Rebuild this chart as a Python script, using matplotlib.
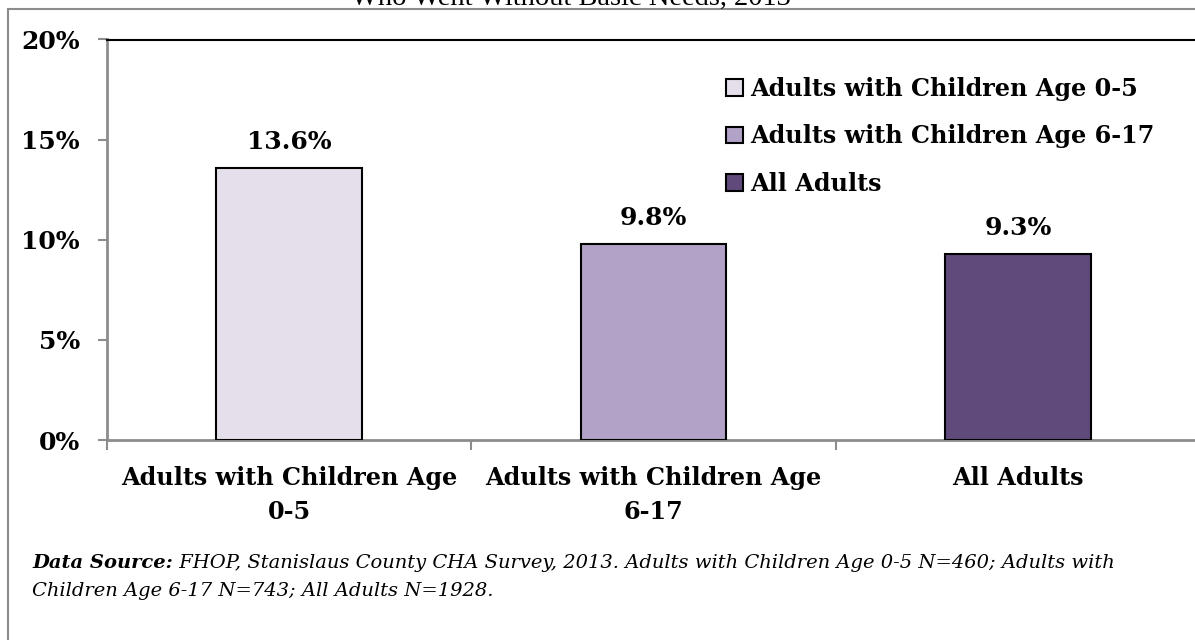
import matplotlib
matplotlib.use("Agg")
import matplotlib.pyplot as plt
from matplotlib.patches import Rectangle, Patch

categories = ["Adults with Children Age\n0-5", "Adults with Children Age\n6-17", "All Adults"]
legend_labels = ["Adults with Children Age 0-5", "Adults with Children Age 6-17", "All Adults"]
values = [13.6, 9.8, 9.3]
colors = ["#E5DFEC", "#B2A2C7", "#604A7B"]
yticks = [0, 5, 10, 15, 20]
title = "Who Went Without Basic Needs, 2013"
source_bold = "Data Source:"
source_line1 = " FHOP, Stanislaus County CHA Survey, 2013. Adults with Children Age 0-5 N=460; Adults with"
source_line2 = "Children Age 6-17 N=743; All Adults N=1928."

FONT = "DejaVu Serif"
W, H = 1195, 640
fig = plt.figure(figsize=(W / 100, H / 100), dpi=100)

# outer frame
fig.patches.append(Rectangle((8 / W, -0.1), 1.2, (H - 9) / H + 0.1, transform=fig.transFigure,
                             fill=False, edgecolor="#8C8C8C", linewidth=1.5, zorder=0))

fig.text(571 / W, 1 - 5 / H, title, ha="center", va="baseline", fontsize=20.5,
         family="Liberation Serif", color="#000000")

ax = fig.add_axes([107 / W, (H - 440) / H, (1200 - 107) / W, (440 - 39.5) / H])
x = list(range(len(values)))
bars = ax.bar(x, values, width=0.4, color=colors, edgecolor="#000000", linewidth=1.5, zorder=3)
ax.set_xlim(-0.5, 2.5)
ax.set_ylim(0, 20)

for xi, v in zip(x, values):
    ax.annotate(f"{v:.1f}%", (xi, v), xytext=(0, 10), textcoords="offset points",
                ha="center", va="bottom", fontsize=18, fontweight="bold", family=FONT)

ax.set_yticks(yticks)
ax.set_yticklabels([f"{t}%" for t in yticks], fontsize=18, fontweight="bold", family=FONT)
ax.tick_params(axis="y", direction="out", length=6.5, width=1.5, color="#8C8C8C", pad=13)

ax.set_xticks([-0.5, 0.5, 1.5], minor=False)
ax.set_xticklabels([])
ax.set_xticks(x, minor=True)
ax.set_xticklabels(categories, minor=True, fontsize=17.2, fontweight="bold", family=FONT,
                   linespacing=1.5)
ax.tick_params(axis="x", which="major", direction="out", length=7, width=1.5, color="#8C8C8C")
ax.tick_params(axis="x", which="minor", length=0, pad=19)

for s in ["left", "bottom"]:
    ax.spines[s].set_color("#8C8C8C")
    ax.spines[s].set_linewidth(2)
ax.spines["top"].set_color("#000000")
ax.spines["top"].set_linewidth(1.5)
ax.spines["right"].set_visible(False)

handles = [Patch(facecolor=c, edgecolor="#000000", linewidth=1.5) for c in colors]
leg = fig.legend(handles, legend_labels, loc="upper left", bbox_to_anchor=(726 / W, 1 - 77 / H),
                 frameon=False, prop={"family": FONT, "weight": "bold", "size": 17.2},
                 handlelength=0.7, handleheight=0.7, handletextpad=0.3, labelspacing=0.98,
                 borderaxespad=0, borderpad=0)

fs = 14
t1 = fig.text(32 / W, 1 - 563 / H, source_bold, ha="left", va="center", fontsize=fs,
              family=FONT, fontweight="bold", style="italic")
fig.canvas.draw()
bb = t1.get_window_extent()
fig.text(bb.x1 / W, 1 - 563 / H, source_line1, ha="left", va="center", fontsize=fs,
         family=FONT, style="italic")
fig.text(32 / W, 1 - 591 / H, source_line2, ha="left", va="center", fontsize=fs,
         family=FONT, style="italic")

fig.savefig("out.png", dpi=100)
